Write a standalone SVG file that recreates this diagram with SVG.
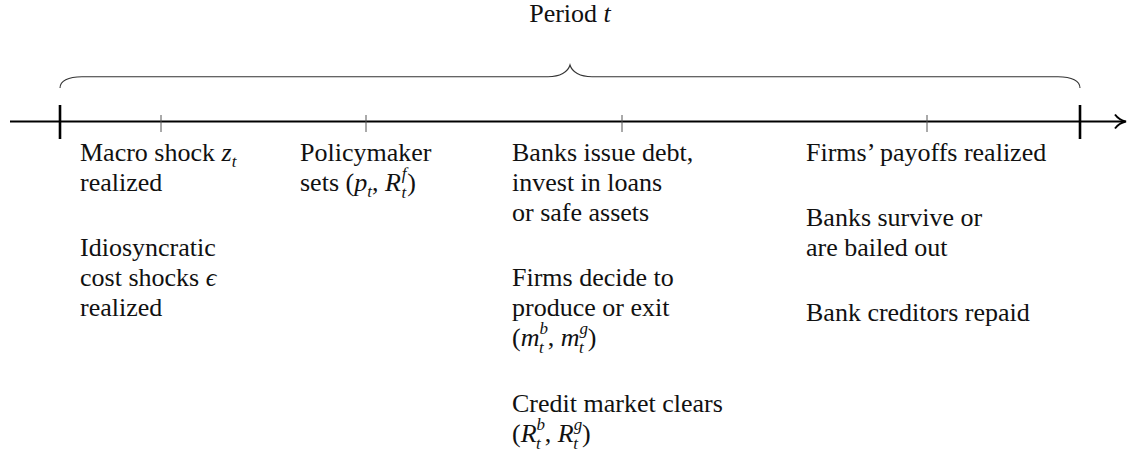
<svg xmlns="http://www.w3.org/2000/svg" width="1128" height="457" viewBox="0 0 1128 457">
<style>
text{font-family:"Liberation Serif","Times New Roman",serif;font-size:26px;fill:#111}
.i{font-style:italic}
.s{font-size:17px;font-style:italic}
.axis{stroke:#000;stroke-width:2;fill:none}
.big{stroke:#000;stroke-width:2.6}
.small{stroke:#555;stroke-width:1}
.brace{stroke:#333;stroke-width:1.1;fill:none}
</style>
<rect width="1128" height="457" fill="#fff"/>
<g id="connectors">
<line class="axis" x1="10" y1="121.5" x2="1124" y2="121.5"/>
<path class="axis" d="M1115,114.5 Q1119,120 1126,121.5 Q1119,123 1115,128.5"/>
<line class="big" x1="60" y1="105" x2="60" y2="139"/>
<line class="big" x1="1080" y1="105" x2="1080" y2="139"/>
<line class="small" x1="161" y1="115" x2="161" y2="132"/>
<line class="small" x1="366" y1="115" x2="366" y2="132"/>
<line class="small" x1="622" y1="115" x2="622" y2="132"/>
<line class="small" x1="927" y1="115" x2="927" y2="132"/>
<path class="brace" d="M60,88 C60,81 68,76.7 82,76.7 L548,76.7 C560,76.7 568,72 570,65 C572,72 580,76.7 592,76.7 L1058,76.7 C1072,76.7 1080,81 1080,88"/>
</g>
<g id="title">
<text x="570" y="22" text-anchor="middle">Period <tspan class="i">t</tspan></text>
</g>
<g id="node-macro">
<text x="80" y="161">Macro shock <tspan class="i">z</tspan><tspan class="s" dy="6">t</tspan></text>
<text x="80" y="191">realized</text>
<text x="80" y="256">Idiosyncratic</text>
<text x="80" y="286">cost shocks <tspan class="i">ϵ</tspan></text>
<text x="80" y="316">realized</text>
</g>
<g id="node-policy">
<text x="300" y="161">Policymaker</text>
<text x="300" y="191">sets (<tspan class="i">p</tspan><tspan class="s" dy="6">t</tspan><tspan dy="-6">, </tspan><tspan class="i">R</tspan><tspan class="s" dx="1" dy="-12">f</tspan><tspan class="s" dx="-5" dy="19">t</tspan><tspan dx="1" dy="-7">)</tspan></text>
</g>
<g id="node-banks">
<text x="512" y="161">Banks issue debt,</text>
<text x="512" y="191">invest in loans</text>
<text x="512" y="221">or safe assets</text>
<text x="512" y="286">Firms decide to</text>
<text x="512" y="316">produce or exit</text>
<text x="512" y="346">(<tspan class="i">m</tspan><tspan class="s" dy="-12">b</tspan><tspan class="s" dx="-9" dy="19">t</tspan><tspan dx="4" dy="-7">, </tspan><tspan class="i">m</tspan><tspan class="s" dy="-12">g</tspan><tspan class="s" dx="-9" dy="19">t</tspan><tspan dx="4" dy="-7">)</tspan></text>
<text x="512" y="412">Credit market clears</text>
<text x="512" y="442">(<tspan class="i">R</tspan><tspan class="s" dy="-12">b</tspan><tspan class="s" dx="-9" dy="19">t</tspan><tspan dx="4" dy="-7">, </tspan><tspan class="i">R</tspan><tspan class="s" dy="-12">g</tspan><tspan class="s" dx="-9" dy="19">t</tspan><tspan dx="4" dy="-7">)</tspan></text>
</g>
<g id="node-firms">
<text x="806" y="161">Firms’ payoffs realized</text>
<text x="806" y="226">Banks survive or</text>
<text x="806" y="256">are bailed out</text>
<text x="806" y="321">Bank creditors repaid</text>
</g>
</svg>
